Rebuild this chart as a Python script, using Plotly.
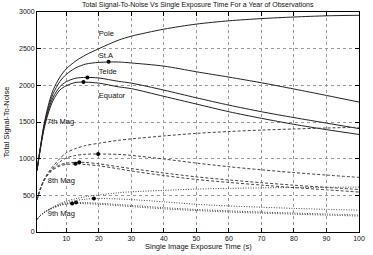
import plotly.graph_objects as go

# ---- data ----
exposure = [1, 2, 3, 4, 5, 6, 8, 10, 13, 16, 20, 26, 30, 40, 50, 60, 70, 80, 90, 100]

mag7_pole    = [840, 1150, 1430, 1640, 1810, 1940, 2110, 2225, 2335, 2415, 2500, 2615, 2670, 2766, 2835, 2880, 2910, 2932, 2948, 2955]
mag7_sta     = [840, 1140, 1410, 1610, 1770, 1890, 2050, 2150, 2240, 2290, 2313, 2318, 2305, 2262, 2185, 2112, 2035, 1950, 1862, 1772]
mag7_teide   = [840, 1130, 1390, 1580, 1730, 1840, 1980, 2050, 2098, 2108, 2100, 2055, 2030, 1935, 1830, 1730, 1640, 1560, 1485, 1410]
mag7_equator = [840, 1120, 1370, 1550, 1690, 1800, 1935, 1995, 2040, 2043, 2030, 1980, 1955, 1850, 1745, 1640, 1550, 1468, 1396, 1330]

mag8_pole    = [440, 590, 700, 780, 845, 900, 1000, 1080, 1140, 1180, 1210, 1250, 1270, 1310, 1345, 1370, 1390, 1405, 1418, 1428]
mag8_sta     = [440, 585, 695, 770, 830, 875, 955, 1010, 1045, 1060, 1064, 1058, 1045, 995, 940, 890, 848, 810, 776, 745]
mag8_teide   = [440, 580, 690, 765, 820, 860, 915, 940, 950, 948, 930, 890, 865, 805, 752, 710, 672, 638, 608, 580]
mag8_equator = [440, 578, 685, 760, 812, 850, 900, 920, 929, 920, 903, 862, 832, 770, 716, 676, 640, 605, 575, 545]

mag9_pole    = [172, 225, 262, 292, 318, 342, 385, 420, 455, 482, 505, 535, 548, 568, 585, 595, 602, 607, 610, 613]
mag9_sta     = [172, 224, 260, 290, 315, 338, 375, 400, 430, 448, 456, 450, 442, 412, 378, 355, 338, 322, 309, 298]
mag9_teide   = [172, 223, 258, 287, 310, 332, 365, 385, 402, 400, 392, 375, 362, 332, 307, 288, 272, 258, 245, 233]
mag9_equator = [172, 222, 256, 284, 307, 328, 360, 380, 389, 386, 378, 360, 346, 316, 292, 273, 257, 243, 230, 218]

# maxima markers
peak_x = [23, 16.5, 15.3, 19.8, 14, 12.8, 18.5, 13, 11.8]
peak_y = [2320, 2108, 2045, 1064, 951, 929, 456, 402, 389]

site_labels = ["Pole", "St.A", "Teide", "Equator"]
site_label_x = [20, 20, 20, 20]
site_label_y = [2695, 2405, 2180, 1850]

mag_labels = ["7th Mag", "8th Mag", "9th Mag"]
mag_label_x = [4.1, 4.3, 4.3]
mag_label_y = [1500, 700, 250]

title_text = "Total Signal-To-Noise Vs Single Exposure Time For a Year of Observations"
x_title = "Single Image Exposure Time (s)"
y_title = "Total Signal-To-Noise"

FONT = "Liberation Sans, Arial, Helvetica, sans-serif"
LINE_COLOR = "#222222"

fig = go.Figure()

groups = [
    ([mag7_pole, mag7_sta, mag7_teide, mag7_equator], "solid", "#222222"),
    ([mag8_pole, mag8_sta, mag8_teide, mag8_equator], "3px,2px", "#444444"),
    ([mag9_pole, mag9_sta, mag9_teide, mag9_equator], "1px,1.5px", "#444444"),
]
for series, dash, col in groups:
    for ys in series:
        fig.add_trace(go.Scatter(
            x=exposure, y=ys, mode="lines",
            line=dict(color=col, width=1, dash=dash, shape="spline", smoothing=0.8),
            showlegend=False, hoverinfo="skip",
        ))

fig.add_trace(go.Scatter(
    x=peak_x, y=peak_y, mode="markers",
    marker=dict(color="black", size=4),
    showlegend=False, hoverinfo="skip",
))

fig.add_trace(go.Scatter(
    x=site_label_x + mag_label_x, y=site_label_y + mag_label_y,
    text=site_labels + mag_labels, mode="text", textposition="middle right",
    textfont=dict(family=FONT, size=7.5, color="#111111"),
    showlegend=False, hoverinfo="skip",
))

axis_common = dict(
    showline=True, linecolor="black", linewidth=1, mirror="allticks",
    ticks="inside", ticklen=4, tickcolor="black", tickwidth=1,
    showgrid=True, gridcolor="#9a9a9a", gridwidth=1, griddash="dot",
    zeroline=False,
    tickfont=dict(family=FONT, size=7, color="#111111"),
)

fig.update_xaxes(range=[1, 100], tick0=0, dtick=10, **axis_common)
fig.update_yaxes(range=[0, 3000], tick0=0, dtick=500, **axis_common)

fig.update_layout(
    width=373, height=255,
    margin=dict(l=37, r=8, t=10, b=23),
    paper_bgcolor="white", plot_bgcolor="white",
    font=dict(family=FONT, size=7.5, color="#111111"),
    annotations=[
        dict(text=title_text, xref="paper", yref="paper", x=0.5, y=1.0,
             xanchor="center", yanchor="bottom", yshift=1, showarrow=False,
             font=dict(family=FONT, size=7, color="#111111")),
        dict(text=x_title, xref="paper", yref="paper", x=0.5, y=-0.068,
             xanchor="center", yanchor="middle", showarrow=False,
             font=dict(family=FONT, size=7.5, color="#111111")),
        dict(text=y_title, xref="paper", yref="paper", x=-0.095, y=0.5,
             xanchor="center", yanchor="middle", showarrow=False, textangle=-90,
             font=dict(family=FONT, size=7.5, color="#111111")),
    ],
)

fig.write_html("out.html")
